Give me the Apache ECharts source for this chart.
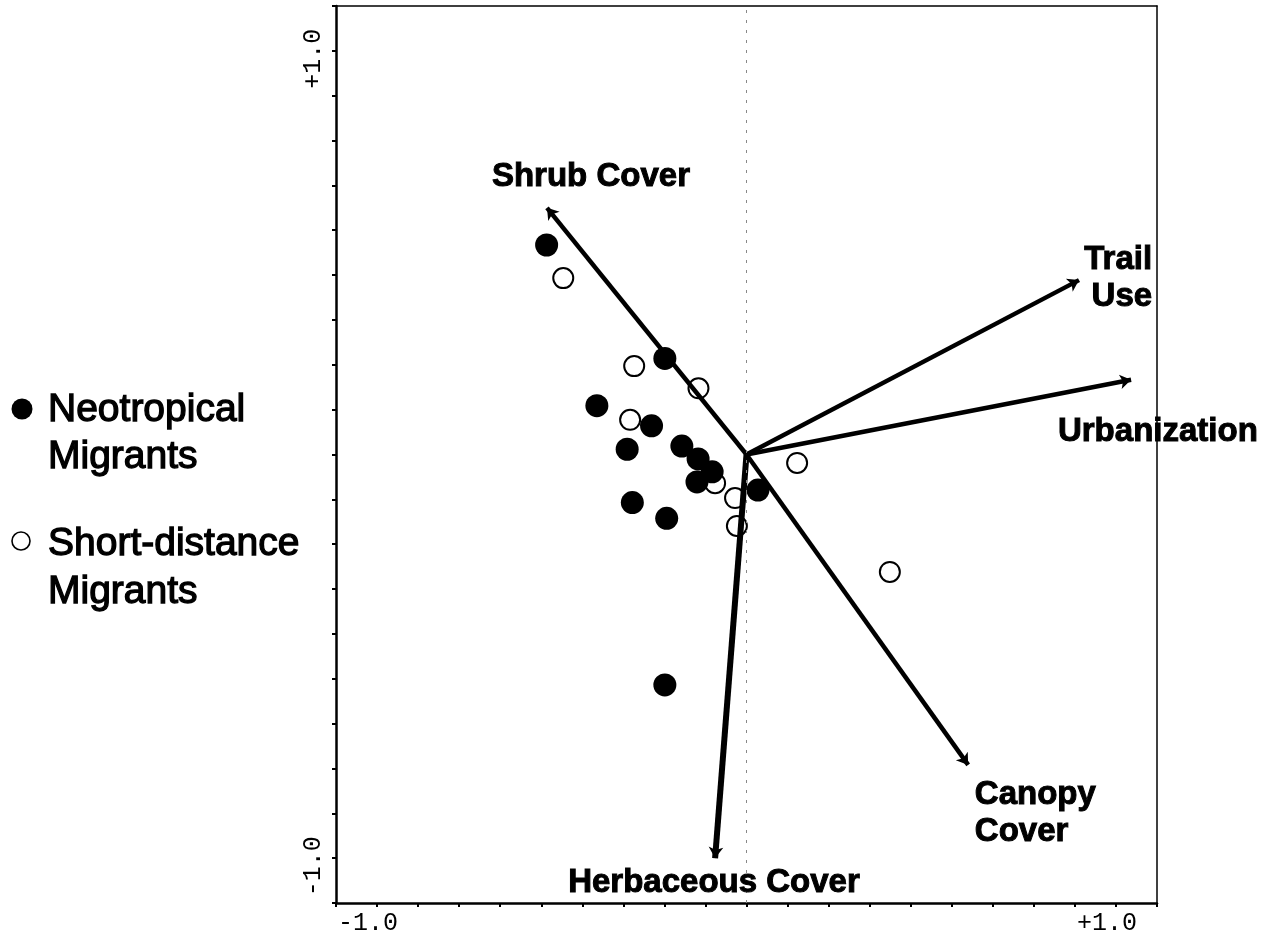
<!DOCTYPE html>
<html><head><meta charset="utf-8">
<script src="https://cdn.jsdelivr.net/npm/echarts@6.0.0/dist/echarts.min.js"></script>
<style>html,body{margin:0;padding:0;background:#fff}#c{width:1268px;height:938px}</style>
</head><body><div id="c"></div>
<script>
// ---- data ----
const neotropical = [
  [-0.541, 0.519], [-0.221, 0.238], [-0.405, 0.121], [-0.257, 0.071],
  [-0.323, 0.013], [-0.175, 0.021], [-0.131, -0.011], [-0.093, -0.043],
  [-0.134, -0.068], [0.031, -0.088], [-0.309, -0.119], [-0.216, -0.158],
  [-0.221, -0.571]
];
const shortDistance = [
  [-0.496, 0.437], [-0.304, 0.219], [-0.130, 0.164], [-0.315, 0.086],
  [-0.085, -0.071], [-0.031, -0.108], [-0.026, -0.177], [0.137, -0.021],
  [0.388, -0.291]
];
const variableNames = ['Shrub Cover', 'Trail Use', 'Urbanization', 'Canopy Cover', 'Herbaceous Cover'];
const variableTips = [[-0.540, 0.611], [0.900, 0.432], [1.041, 0.185], [0.600, -0.769], [-0.085, -1.000]];
const variableLabels = ['Shrub Cover', 'Trail\nUse', 'Urbanization', 'Canopy\nCover', 'Herbaceous Cover'];
const variableLabelAnchors = [[-0.421, 0.687], [1.098, 0.437], [0.843, 0.056], [0.618, -0.888], [-0.088, -1.061]];
const tickLabels = { '-1': '-1.0', '1': '+1.0' };
const legendNames = ['Neotropical\nMigrants', 'Short-distance\nMigrants'];

// ---- chart ----
const chart = echarts.init(document.getElementById('c'), null, { renderer: 'canvas' });
const AX_MIN = -10 / 9, AX_MAX = 10 / 9, AX_INT = 1 / 9;
function fmtTick(v) {
  if (Math.abs(v - 1) < 1e-6) return tickLabels['1'];
  if (Math.abs(v + 1) < 1e-6) return tickLabels['-1'];
  return '';
}
const labelAlign = ['center', 'right', 'left', 'left', 'center'];
const lineWidths = [4.5, 4.5, 4.5, 4.5, 6];

const option = {
  backgroundColor: '#ffffff',
  animation: false,
  grid: { left: 336, right: 111, top: 6, bottom: 35, outerBoundsMode: 'none', containLabel: false },
  xAxis: [{
    type: 'value', min: AX_MIN, max: AX_MAX, interval: AX_INT, position: 'bottom',
    axisLine: { show: true, onZero: false, lineStyle: { color: '#000', width: 2.5 } },
    axisTick: { show: true, inside: false, length: 4, lineStyle: { color: '#000', width: 2 } },
    axisLabel: { formatter: fmtTick, color: '#000', fontFamily: 'Liberation Mono', fontSize: 25, margin: 8, padding: [0, 18, 0, 0], showMinLabel: true, showMaxLabel: true },
    splitLine: { show: false }
  }, {
    type: 'value', min: AX_MIN, max: AX_MAX, interval: AX_INT, position: 'top',
    axisLine: { show: true, onZero: false, lineStyle: { color: '#000', width: 1.5 } },
    axisTick: { show: false }, axisLabel: { show: false }, splitLine: { show: false }
  }],
  yAxis: [{
    type: 'value', min: AX_MIN, max: AX_MAX, interval: AX_INT, position: 'left',
    axisLine: { show: true, onZero: false, lineStyle: { color: '#000', width: 2.5 } },
    axisTick: { show: true, inside: false, length: 4, lineStyle: { color: '#000', width: 2 } },
    axisLabel: { formatter: fmtTick, color: '#000', fontFamily: 'Liberation Mono', fontSize: 25, margin: 10, rotate: 90, padding: [0, 16, 0, 0] },
    splitLine: { show: false }
  }, {
    type: 'value', min: AX_MIN, max: AX_MAX, interval: AX_INT, position: 'right',
    axisLine: { show: true, onZero: false, lineStyle: { color: '#000', width: 1.5 } },
    axisTick: { show: false }, axisLabel: { show: false }, splitLine: { show: false }
  }],
  series: [
    {
      name: 'Short-distance Migrants', type: 'scatter', data: shortDistance, z: 2,
      symbol: 'circle', symbolSize: 20,
      itemStyle: { color: '#fff', borderColor: '#000', borderWidth: 2, opacity: 1 },
      markLine: {
        silent: true, symbol: ['none', 'none'], label: { show: false },
        lineStyle: { color: '#888', type: [3, 7], width: 1 },
        data: [{ xAxis: 0 }]
      }
    },
    {
      name: 'Neotropical Migrants', type: 'scatter', data: neotropical, z: 3,
      symbol: 'circle', symbolSize: 23,
      itemStyle: { color: '#000', borderColor: '#000', borderWidth: 0, opacity: 1 }
    },
    {
      name: 'Variables', type: 'lines', coordinateSystem: 'cartesian2d', z: 4, silent: true,
      symbol: ['none', 'arrow'], symbolSize: [1, 11],
      lineStyle: { color: '#000', width: 4.5, opacity: 1 },
      data: variableTips.map((t, i) => ({ name: variableNames[i], coords: [[0, 0], t], lineStyle: { width: lineWidths[i] } }))
    }
  ]
};
chart.setOption(option);

// variable labels + legend, placed through the chart's own coordinate conversion
const graphics = variableLabelAnchors.map((a, i) => {
  const p = chart.convertToPixel({ gridIndex: 0 }, a);
  return {
    type: 'text', x: p[0], y: p[1], z: 10, silent: true,
    style: {
      text: variableLabels[i], fill: '#000', stroke: '#000', lineWidth: 1,
      font: 'bold 33px "Liberation Sans"', lineHeight: 37,
      align: labelAlign[i], verticalAlign: 'middle'
    }
  };
});
graphics.push(
  { type: 'circle', shape: { cx: 22, cy: 409, r: 10.5 }, style: { fill: '#000' } },
  { type: 'text', x: 48, y: 434, style: { text: legendNames[0], font: '39px "Liberation Sans"', lineHeight: 47, fill: '#000', stroke: '#000', lineWidth: 1.3, verticalAlign: 'middle', align: 'left' } },
  { type: 'circle', shape: { cx: 21, cy: 541, r: 9 }, style: { fill: '#fff', stroke: '#000', lineWidth: 1.6 } },
  { type: 'text', x: 48, y: 568, style: { text: legendNames[1], font: '39px "Liberation Sans"', lineHeight: 48, fill: '#000', stroke: '#000', lineWidth: 1.3, verticalAlign: 'middle', align: 'left' } }
);
chart.setOption({ graphic: graphics });
</script>
</body></html>
